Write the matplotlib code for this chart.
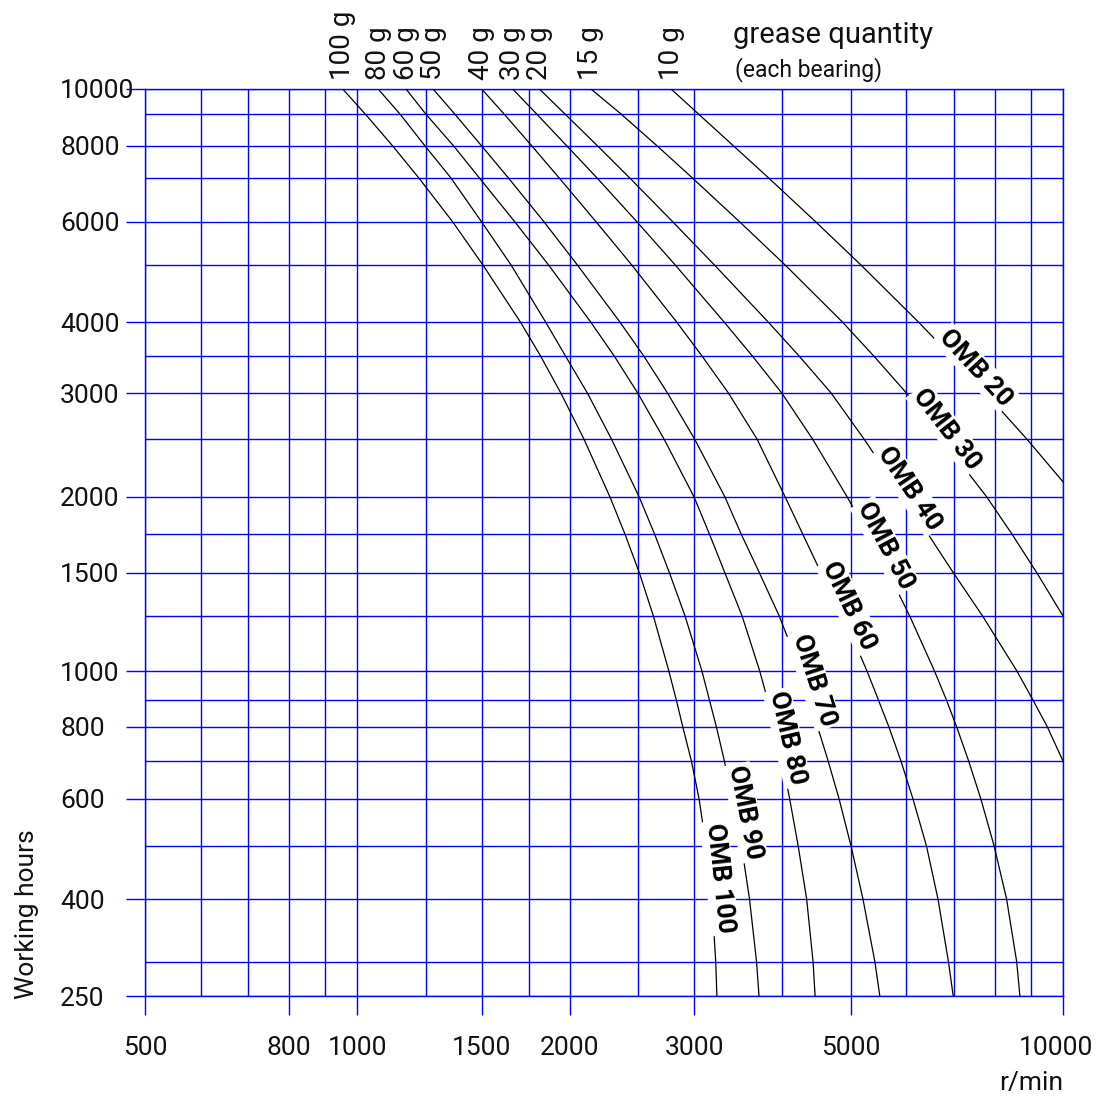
import numpy as np
import matplotlib
matplotlib.use("Agg")
import matplotlib.pyplot as plt
import matplotlib.transforms as mtransforms
from matplotlib.ticker import FixedLocator, FixedFormatter, NullFormatter

plt.rcParams['font.family'] = ['Roboto', 'DejaVu Sans']

# ---------------- data ----------------
hours_full = [10000, 9000, 8000, 7000, 6000, 5000, 4000, 3500, 3000, 2500, 2000,
              1750, 1500, 1250, 1000, 900, 800, 700, 600, 500, 400, 300, 250]

rpm_omb100 = [953, 1026, 1122, 1222, 1365, 1506, 1702, 1818, 1942, 2094, 2280,
              2394, 2510, 2627, 2763, 2831, 2892, 2974, 3050, 3119, 3180, 3220, 3232]
rpm_omb90 = [1070, 1149, 1247, 1357, 1500, 1651, 1848, 1972, 2118, 2291, 2508,
             2637, 2769, 2913, 3078, 3154, 3227, 3312, 3400, 3503, 3595, 3679, 3708]
rpm_omb80 = [1172, 1250, 1369, 1489, 1672, 1866, 2141, 2312, 2496, 2720, 3000,
             3154, 3318, 3509, 3717, 3814, 3902, 4000, 4099, 4214, 4332, 4424, 4453]
rpm_omb70 = [1280, 1374, 1500, 1637, 1839, 2050, 2355, 2546, 2751, 3005, 3318,
             3498, 3714, 3961, 4248, 4367, 4490, 4647, 4816, 5007, 5206, 5413, 5500]
rpm_omb60 = [1500, 1614, 1767, 1932, 2180, 2448, 2834, 3079, 3356, 3684, 4039,
             4276, 4542, 4879, 5275, 5475, 5666, 5893, 6129, 6405, 6650, 6882, 6989]
rpm_omb50 = [1660, 1795, 1981, 2186, 2491, 2821, 3309, 3629, 3994, 4416, 4945,
             5289, 5658, 6063, 6575, 6836, 7069, 7350, 7649, 7987, 8319, 8598, 8688]

hours_omb40 = [10000, 9000, 8000, 7000, 6000, 5000, 4000, 3500, 3000, 2500, 2000,
               1750, 1500, 1250, 1000, 900, 800, 700]
rpm_omb40 = [1811, 1969, 2190, 2432, 2800, 3206, 3821, 4227, 4692, 5224, 5932,
             6436, 6995, 7691, 8603, 9065, 9503, 10000]

hours_omb30 = [10000, 9000, 8000, 7000, 6000, 5000, 4000, 3500, 3000, 2500, 2000,
               1750, 1500, 1250]
rpm_omb30 = [2143, 2364, 2660, 2984, 3483, 4038, 4868, 5393, 6000, 6738, 7797,
             8464, 9184, 10000]

hours_omb20 = [10000, 9000, 8000, 7000, 6000, 5000, 4000, 3500, 3000, 2500, 2120]
rpm_omb20 = [2783, 3044, 3413, 3827, 4464, 5171, 6239, 6941, 7763, 8886, 10000]

model_names = ['OMB 100', 'OMB 90', 'OMB 80', 'OMB 70', 'OMB 60',
               'OMB 50', 'OMB 40', 'OMB 30', 'OMB 20']
grease_labels = ['100 g', '80 g', '60 g', '50 g', '40 g', '30 g', '20 g', '15 g', '10 g']
label_hours = [435, 565, 760, 955, 1280, 1640, 2020, 2540, 3240]

curve_hours = [hours_full, hours_full, hours_full, hours_full, hours_full, hours_full,
               hours_omb40, hours_omb30, hours_omb20]
curve_rpm = [rpm_omb100, rpm_omb90, rpm_omb80, rpm_omb70, rpm_omb60, rpm_omb50,
             rpm_omb40, rpm_omb30, rpm_omb20]

x_major = [500, 800, 1000, 1500, 2000, 3000, 5000, 10000]
x_minor = [600, 700, 900, 1250, 1750, 2500, 4000, 6000, 7000, 8000, 9000]
y_major = [250, 400, 600, 800, 1000, 1500, 2000, 3000, 4000, 6000, 8000, 10000]
y_minor = [300, 500, 700, 900, 1250, 1750, 2500, 3500, 5000, 7000, 9000]

# calibration of the printed (slightly irregular) logarithmic hours axis:
# every grid level and its relative height in the plot area
y_cal_vals = [250, 300, 400, 500, 600, 700, 800, 900, 1000, 1250, 1500, 1750,
              2000, 2500, 3000, 3500, 4000, 5000, 6000, 7000, 8000, 9000, 10000]
y_cal_frac = [0.0, 0.0375, 0.1069, 0.1654, 0.2172, 0.2591, 0.2966, 0.3264,
              0.3583, 0.4190, 0.4664, 0.5094, 0.5502, 0.6141, 0.6648, 0.7056,
              0.7431, 0.8060, 0.8534, 0.9019, 0.9372, 0.9724, 1.0]

LA = np.log10(np.array(y_cal_vals, float))
FA = np.array(y_cal_frac, float)


def _fwd(v):
    v = np.asarray(v, float)
    lv = np.log10(np.clip(v, 1e-9, None))
    out = np.interp(lv, LA, FA)
    s0 = (FA[1] - FA[0]) / (LA[1] - LA[0])
    s1 = (FA[-1] - FA[-2]) / (LA[-1] - LA[-2])
    out = np.where(lv < LA[0], FA[0] + (lv - LA[0]) * s0, out)
    out = np.where(lv > LA[-1], FA[-1] + (lv - LA[-1]) * s1, out)
    return out


def _inv(f):
    f = np.asarray(f, float)
    out = np.interp(f, FA, LA)
    s0 = (LA[1] - LA[0]) / (FA[1] - FA[0])
    s1 = (LA[-1] - LA[-2]) / (FA[-1] - FA[-2])
    out = np.where(f < FA[0], LA[0] + (f - FA[0]) * s0, out)
    out = np.where(f > FA[-1], LA[-1] + (f - FA[-1]) * s1, out)
    return 10 ** out


# ---------------- figure ----------------
BLUE = '#0000ff'
TXT = '#111111'
W, H = 1098, 1097
fig = plt.figure(figsize=(W / 100, H / 100), dpi=100)
ax = fig.add_axes([145 / W, 1 - 996 / H, (1063 - 145) / W, (996 - 89) / H])

ax.set_xscale('log')
ax.set_xlim(500, 10000)
ax.set_yscale('function', functions=(_fwd, _inv))
ax.set_ylim(250, 10000)

ax.xaxis.set_major_locator(FixedLocator(x_major))
ax.xaxis.set_major_formatter(FixedFormatter([str(v) for v in x_major]))
ax.xaxis.set_minor_locator(FixedLocator(x_minor))
ax.xaxis.set_minor_formatter(NullFormatter())
ax.yaxis.set_major_locator(FixedLocator(y_major))
ax.yaxis.set_major_formatter(FixedFormatter([str(v) for v in y_major]))
ax.yaxis.set_minor_locator(FixedLocator(y_minor))
ax.yaxis.set_minor_formatter(NullFormatter())

ax.set_axisbelow(True)
ax.grid(True, which='both', color=BLUE, linewidth=1.0)
for sp in ax.spines.values():
    sp.set_color(BLUE)
    sp.set_linewidth(1.0)
ax.tick_params(which='major', direction='out', length=19 * 0.72, width=1.0,
               color=BLUE, labelsize=19, labelcolor=TXT)
ax.tick_params(which='minor', length=0)
ax.tick_params(axis='x', pad=15)
ax.tick_params(axis='y', pad=47.5)
for lbl in ax.get_yticklabels():
    lbl.set_horizontalalignment('left')
last = ax.get_xticklabels()[-1]
last.set_transform(last.get_transform() + mtransforms.Affine2D().translate(-7, 0))

# curves
for rpm, hrs in zip(curve_rpm, curve_hours):
    ax.plot(rpm, hrs, color='black', linewidth=0.9, zorder=3, clip_on=True,
            solid_joinstyle='round')

# grease quantity labels at the top of each curve
for rpm, g in zip(curve_rpm, grease_labels):
    ax.annotate(g, xy=(rpm[0], 1.0), xycoords=('data', 'axes fraction'),
                xytext=(0, 9 * 0.72), textcoords='offset points',
                rotation=90, ha='center', va='bottom', fontsize=20,
                color=TXT, annotation_clip=False)

# model labels along the curves
fig.canvas.draw()
for rpm, hrs, name, lh in zip(curve_rpm, curve_hours, model_names, label_hours):
    pts = ax.transData.transform(np.column_stack([rpm, hrs]))
    xs, ys = pts[:, 0], pts[:, 1]
    yt = ax.transData.transform((1000, lh))[1]
    order = np.argsort(ys)
    xi = lambda y: np.interp(y, ys[order], xs[order])
    xc = xi(yt)
    x1, x2 = xi(yt + 25), xi(yt - 25)
    ang = np.degrees(np.arctan2(-50, x2 - x1))
    th = np.radians(ang)
    nx, ny = -np.sin(th), np.cos(th)
    off = 10 * 0.72
    ax.annotate(name, xy=ax.transData.inverted().transform((xc, yt)),
                xycoords='data', xytext=(nx * off, ny * off),
                textcoords='offset points', rotation=ang,
                rotation_mode='anchor', ha='center', va='center',
                fontsize=19, fontweight='bold', color='black', zorder=5,
                bbox=dict(boxstyle='square,pad=0.08', fc='white', ec='none'))

# axis titles
fig.text(27 / W, 1 - 914 / H, 'Working hours', rotation=90, ha='center',
         va='center', fontsize=19, color=TXT)
fig.text(1063 / W, 1 - 1083 / H, 'r/min', ha='right', va='center',
         fontsize=19, color=TXT)
fig.text(733 / W, 1 - 35 / H, 'grease quantity', ha='left', va='center',
         fontsize=21, color=TXT)
fig.text(735 / W, 1 - 70 / H, '(each bearing)', ha='left', va='center',
         fontsize=16.5, color=TXT)

fig.savefig('out.png', dpi=100)
